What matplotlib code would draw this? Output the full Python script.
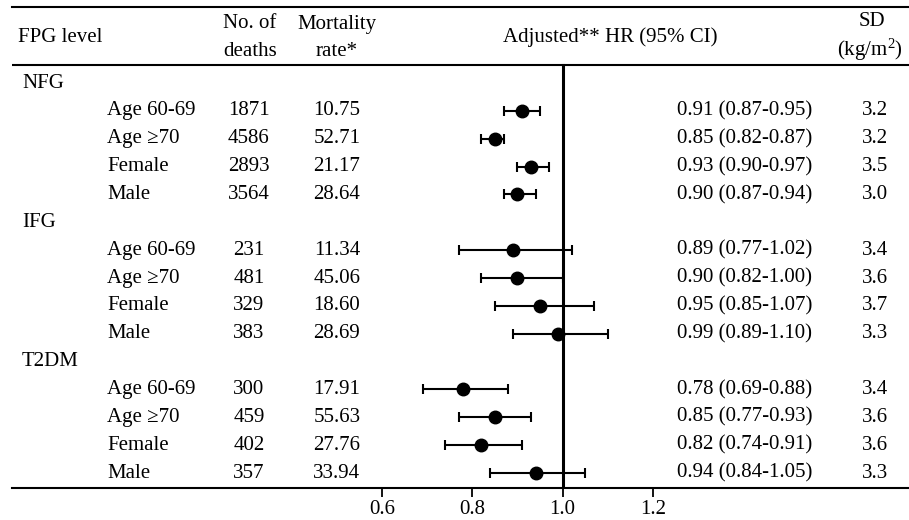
import matplotlib
matplotlib.use("Agg")
import matplotlib.pyplot as plt
import matplotlib.transforms as mtransforms

plt.rcParams['font.family'] = ['Liberation Serif', 'DejaVu Serif']
plt.rcParams['font.size'] = 15
plt.rcParams['mathtext.fontset'] = 'custom'
plt.rcParams['mathtext.rm'] = 'Liberation Serif'
plt.rcParams['mathtext.it'] = 'Liberation Serif:italic'

groups = ['NFG', 'IFG', 'T2DM']
subgroups = ['Age 60-69', 'Age \u226570', 'Female', 'Male']
deaths = [1871, 4586, 2893, 3564, 231, 481, 329, 383, 300, 459, 402, 357]
mortality = ['10.75', '52.71', '21.17', '28.64', '11.34', '45.06', '18.60', '28.69',
             '17.91', '55.63', '27.76', '33.94']
hr = [0.91, 0.85, 0.93, 0.90, 0.89, 0.90, 0.95, 0.99, 0.78, 0.85, 0.82, 0.94]
lo = [0.87, 0.82, 0.90, 0.87, 0.77, 0.82, 0.85, 0.89, 0.69, 0.77, 0.74, 0.84]
hi = [0.95, 0.87, 0.97, 0.94, 1.02, 1.00, 1.07, 1.10, 0.88, 0.93, 0.91, 1.05]
sd = ['3.2', '3.2', '3.5', '3.0', '3.4', '3.6', '3.7', '3.3', '3.4', '3.6', '3.6', '3.3']
xticks = [0.6, 0.8, 1.0, 1.2]

W, H = 909, 520
fig = plt.figure(figsize=(W / 100, H / 100), dpi=100)

# axes spans from top rule to bottom rule
pitch = 27.86
row0 = 83
ax = fig.add_axes([12 / W, (H - 488) / H, 1 - 12 / W, (488 - 7) / H])
ax.set_xlim(0.6 - (382 - 12) / 451.7, 1.2 + (909 - 653) / 451.7)
ax.set_ylim((488 - row0) / pitch, (7 - row0) / pitch)

for s in ['left', 'right']:
    ax.spines[s].set_visible(False)
ax.spines['top'].set_linewidth(1.5)
ax.spines['bottom'].set_linewidth(1.5)
ax.set_yticks([])
ax.set_xticks(xticks)
ax.set_xticklabels([f'{t:.1f}' for t in xticks])
ax.tick_params(axis='x', direction='out', length=6.5, width=1.3, pad=2)

def ypx(px):
    return (px - row0) / pitch

hdr = ypx(65)
ax.axhline(hdr, color='black', lw=1.5)
ax.plot([1.0, 1.0], [hdr, ax.get_ylim()[0]], color='black', lw=2.2, zorder=2)

trans = mtransforms.blended_transform_factory(fig.transFigure, ax.transData)

def fx(px):
    return px / W

# header
ax.text(fx(18), ypx(37), 'FPG level', transform=trans, ha='left', va='center')
ax.text(fx(250), ypx(24), 'No. of', transform=trans, ha='center', va='center')
ax.text(fx(250), ypx(52), 'deaths', transform=trans, ha='center', va='center')
ax.text(fx(337), ypx(24), 'Mortality', transform=trans, ha='center', va='center')
ax.text(fx(337), ypx(52), 'rate*', transform=trans, ha='center', va='center')
ax.text(fx(610), ypx(37), 'Adjusted** HR (95% CI)', transform=trans, ha='center', va='center')
ax.text(fx(872), ypx(22), 'SD', transform=trans, ha='center', va='center')
ax.text(fx(870), ypx(50), '(kg/m$^{2}$)', transform=trans, ha='center', va='center')

# body rows
ys = []
r = 0
for gi, g in enumerate(groups):
    ax.text(fx(22), r, g, transform=trans, ha='left', va='center')
    r += 1
    for si, sname in enumerate(subgroups):
        k = gi * 4 + si
        ax.text(fx(107), r, sname, transform=trans, ha='left', va='center')
        ax.text(fx(249), r, str(deaths[k]), transform=trans, ha='center', va='center')
        ax.text(fx(337), r, mortality[k], transform=trans, ha='center', va='center')
        ax.text(fx(677), r, f'{hr[k]:.2f} ({lo[k]:.2f}-{hi[k]:.2f})', transform=trans,
                ha='left', va='center')
        ax.text(fx(875), r, sd[k], transform=trans, ha='center', va='center')
        ys.append(r)
        r += 1

err = [[h - l for h, l in zip(hr, lo)], [u - h for h, u in zip(hr, hi)]]
ax.errorbar(hr, ys, xerr=err, fmt='o', color='black', ms=9, elinewidth=1.5,
            capsize=3.5, capthick=1.5, zorder=3)

fig.savefig('out.png', dpi=100)
